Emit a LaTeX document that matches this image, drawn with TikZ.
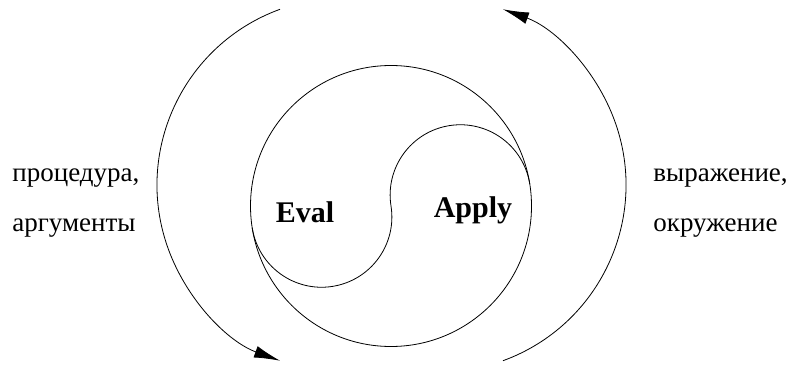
\documentclass[tikz,border=0pt]{standalone}
\usepackage{fontspec}
\setmainfont{Liberation Serif}
\usetikzlibrary{arrows.meta,calc}
\tikzset{
  side label/.style={anchor=base west,inner sep=0pt,font=\fontsize{27}{32}\selectfont},
  part label/.style={anchor=base,inner sep=0pt,font=\bfseries\fontsize{30}{36}\selectfont},
  cycle arrow/.style={-{Latex[length=26pt,width=12pt]}}
}
\begin{document}
\begin{tikzpicture}[x=1pt,y=1pt,line width=0.8pt]
    \useasboundingbox (0,0) rectangle (791,364);
    \coordinate (centre) at (391,158);
    % outer circle and the two halves
    \draw (centre) circle[radius=140.5];
    \draw ($(centre)+(189:140.5)$)
      arc[start angle=189,end angle=369,radius=70.25]
      arc[start angle=189,end angle=9,radius=70.25];
    \node[part label] (eval) at (305,141) {Eval};
    \node[part label] (apply) at (473,146) {Apply};
    % the two arrows round the cycle
    \draw[cycle arrow] (344,179) ++(110:187)
      arc[start angle=110,end angle=250,radius=187];
    \draw[cycle arrow] (439,179) ++(-70:187)
      arc[start angle=-70,end angle=70,radius=187];
    \node[side label] (proc) at (12,182) {процедура,};
    \node[side label] (args) at (12,132) {аргументы};
    \node[side label] (expr) at (653,182) {выражение,};
    \node[side label] (env) at (653,132) {окружение};
\end{tikzpicture}
\end{document}
